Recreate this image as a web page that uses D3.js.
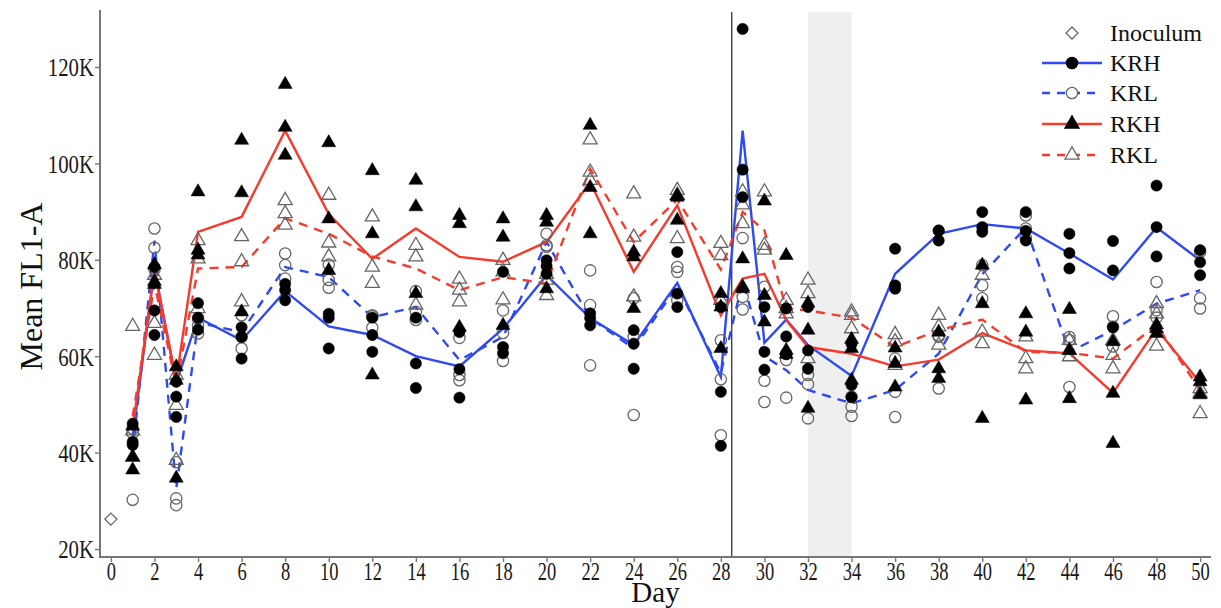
<!DOCTYPE html>
<html><head><meta charset="utf-8">
<script src="https://cdn.jsdelivr.net/npm/d3@7"></script>
<style>body{margin:0;background:#fff}svg{display:block}text{font-family:"Liberation Serif","Times New Roman",serif}</style>
</head><body><svg id="c" width="1221" height="608"></svg>
<script>
const days = [1,2,3,4,6,8,10,12,14,16,18,20,22,24,26,28,29,30,31,32,34,36,38,40,42,44,46,48,50];
const xTicks = [0,2,4,6,8,10,12,14,16,18,20,22,24,26,28,30,32,34,36,38,40,42,44,46,48,50];
const yTicks = [20,40,60,80,100,120];
const yTickLabels = ["20K","40K","60K","80K","100K","120K"];
const inoculum = [[0, 26.2]];
const krhMean = [43.3,78,54.5,68,63.3,73.5,66.2,64.4,60,57.9,65.7,76.8,67.9,62.3,75.2,55.7,106.8,62.8,67.6,62.3,55.9,77.1,85.4,87.4,86.5,81.3,75.9,86.7,79.9];
const krlMean = [40,84,32.5,67,65,78.5,76.4,68.1,70.2,59.2,64,83.7,67.9,61.6,74.5,56.5,75.5,60,57.1,53,50.2,53,60.5,77,86.7,60.9,65.4,70.9,73.7];
const rkhMean = [45,78,55,85.8,88.9,106.8,89.5,80.2,86.5,80.6,79.6,83.7,96.1,77.5,91.3,68.5,76.1,77.1,67.5,61.9,60.5,57.9,59.3,64.8,61.2,60.6,52.4,65.7,54.5];
const rklMean = [47.5,75,54,78.2,78.5,88.6,85.4,80.7,78.2,73.7,76.4,75.1,98.9,83.7,92.5,78,89.9,86.1,69.9,69.5,68,61.9,65.4,67.6,60.9,60.7,59.5,66.4,53];
const krhReps = [[46.0,42.2,41.6],[78.5,69.5,64.4],[54.7,51.6,47.4],[71.0,68.0,65.5],[66.0,64.0,59.5],[75.0,73.7,71.6],[68.8,68.0,61.6],[68.0,64.4,60.9],[68.0,58.5,53.4],[65.0,57.3,51.4],[77.5,61.9,60.6],[79.9,78.7,77.1],[68.9,67.9,66.4],[65.4,62.6,57.4],[81.6,73.0,70.2],[70.2,52.6,41.4],[127.9,98.7,93.0],[70.2,60.9,57.2],[69.9,64.1,60.4],[70.2,61.2,57.4],[62.6,54.0,51.5],[82.3,74.7,74.0],[86.1,84.0,86.0],[89.9,86.8,85.8],[89.9,84.0,86.0],[85.4,81.4,78.2],[83.9,77.8,66.0],[95.4,86.8,80.7],[82.0,79.5,76.8]];
const krlReps = [[30.2,44.0,45.0],[86.5,82.5,78.0],[30.5,29.1,38.0],[67.8,66.4,64.7],[68.5,64.0,61.6],[81.3,78.9,76.1],[79.0,75.8,74.2],[68.5,68.3,65.9],[73.5,69.2,67.5],[63.8,56.1,55.0],[69.5,64.8,59.0],[85.4,83.0,82.7],[77.8,70.6,58.1],[72.0,64.0,47.8],[78.5,77.5,71.6],[63.3,55.2,43.6],[84.5,72.3,69.7],[74.4,54.9,50.5],[60.5,59.2,51.4],[56.1,54.2,47.1],[51.6,49.5,47.6],[59.5,52.6,47.4],[64.3,64.0,53.3],[78.9,74.7,72.0],[89.2,86.5,84.5],[64.0,63.3,53.6],[68.3,66.1,62.0],[75.4,69.5,68.0],[81.6,72.0,69.9]];
const rkhReps = [[45.5,39.1,36.4],[79.0,74.9,75.5],[57.8,55.0,34.7],[94.1,82.0,81.0],[104.8,93.9,69.2],[116.4,107.5,101.7],[104.3,88.5,77.8],[98.5,85.4,56.1],[96.5,91.0,73.0],[89.2,87.5,66.0],[88.5,84.7,66.4],[89.2,87.8,74.0],[107.9,95.0,85.4],[81.6,80.6,69.9],[93.3,93.0,88.2],[73.0,70.2,61.6],[80.2,74.4,74.0],[92.2,72.6,67.1],[80.9,61.2,60.4],[71.0,65.4,49.2],[63.5,61.6,55.0],[61.7,58.5,53.6],[65.0,57.4,55.4],[78.9,70.9,47.1],[68.8,65.0,50.9],[69.7,61.2,51.2],[63.0,52.3,41.9],[66.5,65.7,64.7],[55.7,54.7,52.0]];
const rklReps = [[66.2,44.5,39.0],[76.8,66.8,60.2],[56.1,49.8,38.4],[84.0,80.2,69.9],[84.8,79.6,71.3],[92.3,89.6,87.2],[93.4,83.5,80.6],[88.9,78.5,75.1],[83.0,80.6,70.6],[76.0,73.7,71.3],[79.9,77.5,71.7],[77.0,75.8,72.6],[104.9,98.2,96.5],[93.7,84.7,72.3],[94.4,93.4,84.4],[83.4,80.9,71.6],[94.1,91.4,87.5],[94.1,83.0,82.0],[71.6,69.9,68.8],[75.8,73.0,59.5],[69.2,68.5,65.7],[64.5,63.0,58.1],[68.5,66.1,62.3],[76.8,65.0,62.6],[64.0,59.5,57.4],[63.3,61.2,59.9],[63.3,60.2,57.4],[70.9,68.8,62.1],[53.3,52.3,48.1]];
const seriesNames = ["KRH","KRL","RKH","RKL"];
const refDay = 28.5;
const shadeDays = [32, 34];

const BLUE = "#2f4af2", RED = "#f63a2c", OPEN = "#666";
const svg = d3.select("#c");
const L = 100, R = 1211, T = 12, B = 557;
const x = d3.scaleLinear().domain([-0.5, 50.5]).range([L, R]);
const y = d3.scaleLinear().domain([20, 120]).range([549, 67]);

// shading & reference line
svg.append("rect").attr("x", x(shadeDays[0])).attr("y", T).attr("width", x(shadeDays[1]) - x(shadeDays[0])).attr("height", B - T).attr("fill", "#efefef");
svg.append("line").attr("x1", x(refDay)).attr("x2", x(refDay)).attr("y1", T).attr("y2", B).attr("stroke", "#222").attr("stroke-width", 1.2);

// axes
const SX = 0.74;
const xAxis = d3.axisBottom(x).tickValues(xTicks).tickSize(5).tickSizeOuter(0).tickFormat(d3.format("d"));
const gx = svg.append("g").attr("transform", `translate(0,${B})`).call(xAxis);
const yAxis = d3.axisLeft(y).tickValues(yTicks).tickSize(5).tickSizeOuter(0).tickFormat((d, i) => yTickLabels[i]);
const gy = svg.append("g").attr("transform", `translate(${L},0)`).call(yAxis);
[gx, gy].forEach(g => {
  g.select(".domain").remove();
  g.attr("font-family", null);
  g.selectAll(".tick line").attr("stroke", "#777").attr("stroke-width", 1.4);
  g.selectAll(".tick text").attr("fill", "#1a1a1a");
});
gx.selectAll(".tick text").style("font-size", "25px").attr("y", 5).attr("dy", "0.74em").attr("transform", `scale(${SX},1)`);
gy.selectAll(".tick text").style("font-size", "26px").attr("x", -6 / 0.8).attr("dy", "0.34em").attr("transform", "scale(0.8,1)");

svg.append("line").attr("x1", L).attr("x2", L).attr("y1", T - 2).attr("y2", B + 1).attr("stroke", "#777").attr("stroke-width", 2);
svg.append("line").attr("x1", L - 1).attr("x2", R).attr("y1", B).attr("y2", B).attr("stroke", "#777").attr("stroke-width", 2);

svg.append("text").attr("x", x(25)).attr("y", 602).attr("text-anchor", "middle").style("font-size", "29px").attr("fill", "#111").text("Day");
svg.append("text").attr("transform", `translate(42,${(T + B) / 2 + 2}) rotate(-90)`).attr("text-anchor", "middle").style("font-size", "32px").attr("fill", "#111").text("Mean FL1-A");

// mean lines
const line = d3.line().x(d => x(d[0])).y(d => y(d[1]));
const lineSpec = [
  {m: krhMean, c: BLUE, dash: null},
  {m: krlMean, c: BLUE, dash: "9,7"},
  {m: rkhMean, c: RED, dash: null},
  {m: rklMean, c: RED, dash: "9,7"}
];
lineSpec.forEach(s => {
  svg.append("path").datum(days.map((d, i) => [d, s.m[i]])).attr("d", line)
    .attr("fill", "none").attr("stroke", s.c).attr("stroke-width", 2.4)
    .attr("stroke-dasharray", s.dash);
});

// points
const circ = d3.symbol().type(d3.symbolCircle).size(100);
const tri = d3.symbol().type(d3.symbolTriangle).size(85);
const diaPath = "M0,-6L6,0L0,6L-6,0Z";
const ptSpec = [
  {reps: rklReps, sym: tri, filled: false},
  {reps: krlReps, sym: circ, filled: false},
  {reps: rkhReps, sym: tri, filled: true},
  {reps: krhReps, sym: circ, filled: true}
];
ptSpec.forEach(s => {
  const pts = [];
  days.forEach((d, i) => s.reps[i].forEach(v => pts.push([d, v])));
  svg.append("g").selectAll("path").data(pts).join("path")
    .attr("transform", d => `translate(${x(d[0])},${y(d[1])})`)
    .attr("d", s.sym())
    .attr("fill", s.filled ? "#000" : "none")
    .attr("stroke", s.filled ? "#000" : OPEN)
    .attr("stroke-width", s.filled ? 0.5 : 1.3);
});
svg.append("g").selectAll("path").data(inoculum).join("path")
  .attr("transform", d => `translate(${x(d[0])},${y(d[1])})`)
  .attr("d", diaPath).attr("fill", "none").attr("stroke", OPEN).attr("stroke-width", 1.3);

// legend
const lg = svg.append("g");
const lgY = [33, 63, 93, 124, 155];
lg.append("path").attr("transform", `translate(1072,${lgY[0]})`).attr("d", diaPath).attr("fill", "none").attr("stroke", OPEN).attr("stroke-width", 1.3);
lg.append("text").attr("x", 1110).attr("y", lgY[0] + 8).style("font-size", "24px").attr("fill", "#111").text("Inoculum");
const legSyms = [{sym: circ, f: true}, {sym: circ, f: false}, {sym: tri, f: true}, {sym: tri, f: false}];
seriesNames.forEach((n, i) => {
  const yy = lgY[i + 1];
  const s = lineSpec[i];
  lg.append("line").attr("x1", 1042).attr("x2", 1102).attr("y1", yy).attr("y2", yy)
    .attr("stroke", s.c).attr("stroke-width", 2.4).attr("stroke-dasharray", s.dash ? "8,7" : null);
  lg.append("path").attr("transform", `translate(1072,${yy})`).attr("d", legSyms[i].sym())
    .attr("fill", legSyms[i].f ? "#000" : "#fff").attr("stroke", legSyms[i].f ? "#000" : OPEN).attr("stroke-width", 1.3);
  lg.append("text").attr("x", 1110).attr("y", yy + 8).style("font-size", "24px").attr("fill", "#111").text(n);
});
</script></body></html>
